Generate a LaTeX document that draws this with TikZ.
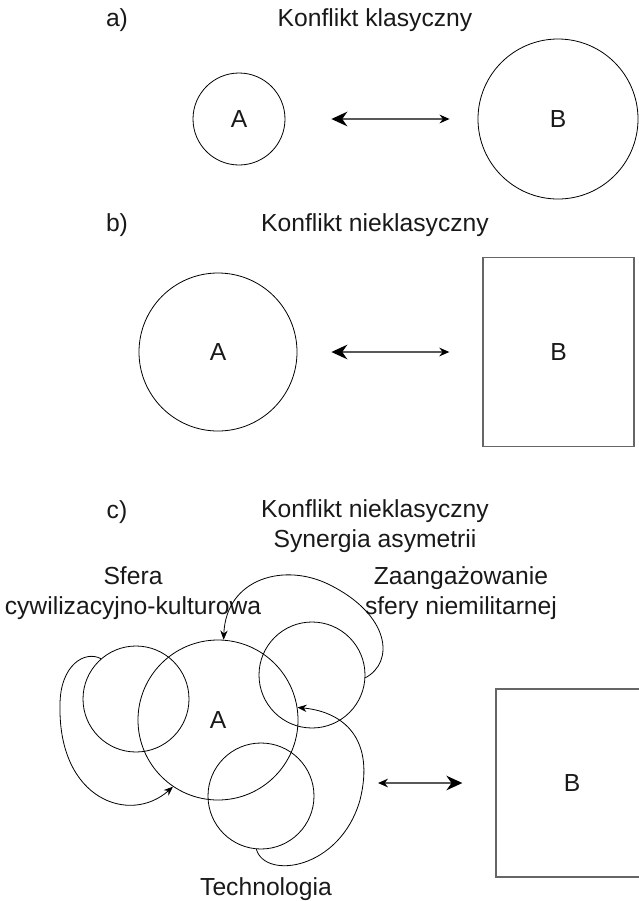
\documentclass[tikz,border=0pt]{standalone}
\usepackage{fontspec}
\setmainfont{Liberation Sans}
\usepackage{tikz}
\usetikzlibrary{arrows.meta}
\tikzset{
	bighead/.tip={Stealth[length=12pt,width=11pt,black]},
	smallhead/.tip={Stealth[length=7.5pt,width=6.5pt,black]},
	loophead/.tip={Stealth[length=7pt,width=5.5pt,black]}
}

\begin{document}
\begin{tikzpicture}[x=0.75pt,y=-0.75pt,font=\fontsize{18.5}{22}\selectfont]
	\useasboundingbox (0,0) rectangle (639,901);

	\begin{scope}[every node/.style={text=black!90}]
	    \node (la) at (117,20) {a)};
	    \node (ta) at (375,20) {Konflikt klasyczny};
	    \node (lb) at (117,225) {b)};
	    \node (tb) at (375,225) {Konflikt nieklasyczny};
	    \node (lc) at (117,512) {c)};
	    \node[align=center] (tc) at (375,526) {Konflikt nieklasyczny\\Synergia asymetrii};
	    \node[align=center] (ts) at (133,593) {Sfera\\cywilizacyjno-kulturowa};
	    \node[align=center] (tz) at (461,593) {Zaangażowanie\\sfery niemilitarnej};
	    \node (tt) at (266,889) {Technologia};
	\end{scope}

	\begin{scope}[every node/.style={circle,draw,line width=0.6pt,inner sep=0pt,text=black!90}]
	    \node[minimum size=69pt] (A1) at (239,119) {A};
	    \node[minimum size=120pt] (B1) at (558,119) {B};
	    \node[minimum size=118.5pt] (A2) at (218,352) {A};
	    \node[minimum size=120pt] (A3) at (218,720) {A};
	    \node[minimum size=79.5pt] (S) at (136,699) {};
	    \node[minimum size=79.5pt] (Z) at (312,675) {};
	    \node[minimum size=79.5pt] (T) at (261,796) {};
	\end{scope}

	\begin{scope}[every node/.style={rectangle,draw=black!60,line width=1pt,inner sep=0pt,text=black!90}]
	    \node[minimum width=113.25pt,minimum height=141.75pt] (B2) at (558.5,352) {B};
	    \node[minimum width=114pt,minimum height=141pt] (B3) at (572,783) {B};
	\end{scope}
	\coordinate (C) at (378,783);

	\begin{scope}[>={Stealth[black]},
	              every edge/.style={draw=black!65,line width=1.1pt}]
	    \path (A1) edge[bighead-smallhead, shorten <=34.5pt, shorten >=21pt] (B1);
	    \path (A2) edge[bighead-smallhead, shorten <=25.5pt, shorten >=24.75pt] (B2);
	    \path (C) edge[smallhead-bighead, shorten >=24.75pt] (B3);
	\end{scope}

	\begin{scope}[line width=0.6pt]
	    \draw[-loophead] (S.131) .. controls (85,650) and (60,665) .. (60,705)
	        .. controls (58,800) and (130,825) .. (A3.-124);
	    \draw[-loophead] (Z.-3) .. controls (395,662) and (390,615) .. (330,585)
	        .. controls (285,562) and (226,578) .. (A3.86);
	    \draw[-loophead] (T.-95) .. controls (265,880) and (340,870) .. (360,800)
	        .. controls (375,740) and (345,712) .. (A3.9);
	\end{scope}
\end{tikzpicture}
\end{document}
